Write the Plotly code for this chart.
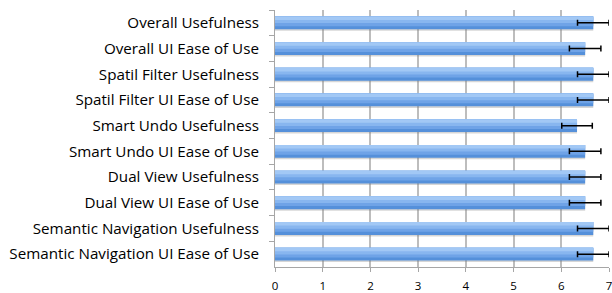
import plotly.graph_objects as go

categories = [
    "Overall Usefulness",
    "Overall UI Ease of Use",
    "Spatil Filter Usefulness",
    "Spatil Filter UI Ease of Use",
    "Smart Undo Usefulness",
    "Smart Undo UI Ease of Use",
    "Dual View Usefulness",
    "Dual View UI Ease of Use",
    "Semantic Navigation Usefulness",
    "Semantic Navigation UI Ease of Use",
]
means = [6.67, 6.5, 6.67, 6.67, 6.33, 6.5, 6.5, 6.5, 6.67, 6.67]
errors = [0.33, 0.33, 0.33, 0.33, 0.32, 0.33, 0.33, 0.33, 0.33, 0.33]
x_ticks = [0, 1, 2, 3, 4, 5, 6, 7]

fig = go.Figure()

# shadow
fig.add_trace(go.Bar(y=categories, x=means, orientation="h", width=0.5, offset=-0.19,
                     marker=dict(color="rgba(120,120,120,0.3)", line=dict(width=0)),
                     hoverinfo="skip"))
# gradient layers (dark bottom -> light top)
fig.add_trace(go.Bar(y=categories, x=means, orientation="h", width=0.5, offset=-0.25,
                     marker=dict(color="#5590DA", line=dict(width=0))))
fig.add_trace(go.Bar(y=categories, x=means, orientation="h", width=0.38, offset=-0.25,
                     marker=dict(color="#6FA3E7", line=dict(width=0))))
fig.add_trace(go.Bar(y=categories, x=means, orientation="h", width=0.26, offset=-0.25,
                     marker=dict(color="#88B6EF", line=dict(width=0))))
fig.add_trace(go.Bar(y=categories, x=means, orientation="h", width=0.14, offset=-0.25,
                     marker=dict(color="#A2C8F5", line=dict(width=0))))
# error bars
fig.add_trace(go.Bar(y=categories, x=means, orientation="h", width=0.5, offset=-0.25,
                     marker=dict(color="rgba(0,0,0,0)", line=dict(width=0)),
                     error_x=dict(type="data", array=errors, color="black",
                                  thickness=1.5, width=3)))

fig.update_layout(
    width=612, height=293,
    margin=dict(l=275, r=3, t=10, b=26),
    barmode="overlay",
    showlegend=False,
    plot_bgcolor="white",
    paper_bgcolor="white",
    font=dict(family="Open Sans, Lato, sans-serif", size=15, color="black"),
    xaxis=dict(range=[0, 7], tickvals=x_ticks, showgrid=True, gridcolor="#BDBDBD",
               gridwidth=1.5, showline=True, linecolor="#A6A6A6", linewidth=1,
               ticks="outside", ticklen=4, tickcolor="#A6A6A6",
               tickfont=dict(size=11.5), zeroline=False, automargin=False,
               ticklabeloverflow="allow", ticklabelstandoff=4),
    yaxis=dict(autorange="reversed", type="category", showline=True, linecolor="#A6A6A6",
               linewidth=1, ticks="outside", ticklen=5, tickcolor="#A6A6A6",
               tickson="boundaries", showgrid=False, tickfont=dict(size=15.2),
               automargin=False, ticklabelstandoff=12),
)

fig.write_html("out.html", config={"displayModeBar": False},
               post_script="document.body.style.margin='0';")
